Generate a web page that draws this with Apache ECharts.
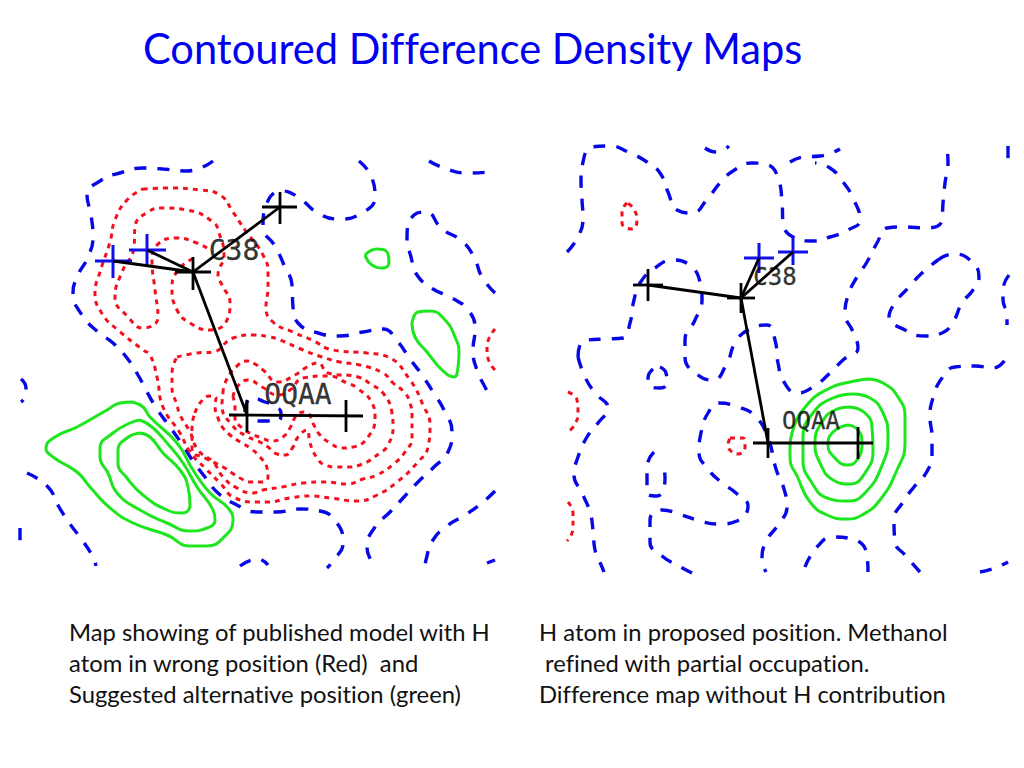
<!DOCTYPE html>
<html>
<head>
<meta charset="utf-8">
<script src="https://cdn.jsdelivr.net/npm/echarts@6/dist/echarts.min.js"></script>
<style>html,body{margin:0;padding:0;background:#fff}#c{width:1024px;height:768px}
svg text{font-variant-ligatures:none;font-feature-settings:"liga" 0,"clig" 0}</style>
</head>
<body>
<div id="c"></div>
<script>
// ---- Left map: blue contours
var blueL1=[[213,161],[187,171],[163,169],[143,168],[123,172],[100,181],[87,195],[91,215],[93,237],[88,257],[78,275],[73,293],[82,315],[98,332],[113,343],[127,358],[138,375],[147,392],[157,409],[170,427],[182,444],[193,461],[205,477],[218,493],[235,504],[257,512],[277,512],[299,509],[320,511],[337,523],[343,543],[332,562],[327,568]];
var blueL2=[[359,161],[372,178],[375,197],[362,213],[339,219],[318,213],[298,197],[282,191],[267,203],[263,227],[275,246],[284,265],[292,285],[293,307],[298,323],[318,333],[339,336],[363,332],[383,329],[398,342],[410,359],[422,375],[433,392],[444,410],[452,432],[448,452],[434,467],[418,482],[404,497],[390,512],[375,527],[367,547],[372,563],[375,568]];
var blueL3=[[429,161],[444,168],[467,173],[490,172],[495,171]];
var blueL4=[[495,293],[482,277],[474,257],[462,241],[442,229],[426,212],[414,215],[407,238],[411,257],[417,275],[433,289],[452,298],[469,311],[475,330],[473,350],[477,370],[486,389],[490,396]];
var blueL5=[[495,491],[482,503],[465,515],[447,526],[433,540],[426,560],[425,568]];
var blueL6=[[487,563],[495,560]];
var blueL7=[[21,379],[26,388],[25,397],[21,402]];
var blueL8=[[27,473],[48,487],[59,507],[70,524],[82,540],[93,557],[96,566]];
var blueL9=[[240,566],[258,559],[268,565]];
var blueL10=[[20,528],[20,545]];
var blueL11=[[245,412],[247,402],[252,398],[265,402],[275,406],[281,413],[278,421],[260,421],[250,418]];
// ---- Left map: red contours
var redL1=[[143,189],[167,188],[200,190],[220,195],[233,212],[245,230],[263,255],[268,273],[268,287],[266,307],[273,322],[293,332],[312,340],[333,350],[367,353],[388,357],[410,380],[423,405],[430,425],[428,447],[417,463],[397,482],[377,495],[357,501],[330,498],[310,496],[290,498],[267,502],[257,502],[235,498],[220,483],[205,468],[190,452],[180,433],[163,407],[157,377],[150,355],[143,350],[118,330],[103,315],[95,293],[100,272],[110,242],[115,220],[127,200]];
var redL2=[[207,248],[197,243],[177,238],[157,245],[152,260],[155,290],[158,317],[143,328],[128,317],[115,297],[122,272],[134,247],[135,227],[148,212],[163,208],[187,210],[213,222],[219,233],[224,255],[218,275],[222,285],[230,303],[227,320],[210,330],[190,323],[177,310],[172,287],[180,268],[195,258]];
var redL3=[[177,357],[197,353],[213,352],[233,338],[253,335],[270,337],[280,340],[303,350],[322,357],[340,362],[360,365],[383,373],[393,383],[405,393],[410,403],[412,415],[412,438],[405,452],[395,463],[377,475],[363,479],[347,484],[325,482],[303,483],[282,487],[263,490],[253,493],[237,488],[223,477],[213,462],[198,450],[190,432],[180,415],[177,405],[172,387],[172,373]];
var redL4=[[195,413],[200,403],[210,396],[216,398],[215,405],[218,418],[223,428],[230,435],[240,442],[250,448],[260,457],[267,468],[268,477],[262,482],[250,482],[240,478],[232,473],[223,467],[205,458],[192,450],[192,427]];
var redL5=[[223,393],[225,383],[238,365],[247,361],[255,364],[263,370],[278,382],[295,375],[307,367],[318,363],[328,373],[358,377],[372,385],[383,393],[392,413],[393,427],[388,445],[380,453],[360,465],[348,467],[337,467],[325,465],[317,458],[310,443],[307,430],[298,437],[293,447],[285,455],[277,454],[268,447],[258,441],[248,437],[232,425],[222,405]];
var redL6=[[233,397],[237,387],[248,380],[262,387],[278,395],[290,390],[303,378],[328,376],[347,383],[357,388],[372,403],[375,417],[368,437],[353,447],[342,448],[330,443],[320,435],[315,427],[305,412],[297,415],[290,428],[283,437],[272,441],[262,438],[250,433],[242,428],[235,418],[235,407]];
var redL7=[[495,329],[487,347],[488,358],[495,370]];
// ---- Left map: green contours
var greenL1=[[132,402],[143,407],[150,417],[177,443],[193,470],[210,493],[228,508],[233,520],[223,538],[207,546],[190,546],[167,535],[133,523],[110,508],[90,487],[77,472],[53,457],[46,448],[55,437],[77,427],[107,410],[120,403]];
var greenL2=[[140,420],[152,427],[167,443],[183,463],[197,487],[213,510],[215,520],[207,528],[190,531],[167,523],[140,510],[117,493],[108,473],[100,457],[100,448],[113,433],[130,423]];
var greenL3=[[140,433],[150,437],[163,453],[180,470],[188,487],[190,505],[182,513],[167,510],[143,495],[127,478],[118,463],[118,450],[127,438]];
var greenL4=[[365,255],[377,249],[387,252],[389,262],[383,268],[372,265]];
var greenL5=[[412,323],[418,312],[430,311],[445,320],[455,337],[459,353],[458,367],[454,377],[442,370],[427,352],[415,337]];
// ---- Right map: blue contours
var blueR1=[[567,252],[578,237],[583,218],[582,200],[581,180],[583,162],[592,147],[610,146],[628,152],[647,162],[660,173],[668,192],[677,210],[692,213],[708,198],[720,183],[733,171],[752,163],[768,165],[778,178],[782,202],[783,222],[793,237],[812,241],[830,237],[848,230],[860,220],[853,198],[843,182],[830,168],[815,163]];
var blueR2=[[790,162],[803,157],[820,156],[840,149]];
var blueR3=[[705,148],[716,152],[729,146]];
var blueR4=[[578,357],[580,345],[588,340],[605,339],[623,338],[630,323],[634,300],[640,283],[655,268],[673,260],[688,264],[700,282],[702,300],[695,320],[685,340],[685,357],[698,375],[713,380],[727,363],[735,343],[748,330],[767,325],[775,340],[778,363],[784,382],[797,393],[813,387],[830,373],[843,360],[858,348],[853,332],[845,313],[849,293],[857,277],[867,262],[877,243],[887,228],[904,227],[927,228],[942,220],[943,203],[945,183],[948,163],[947,147]];
var blueR5=[[578,357],[585,377],[595,393],[608,408],[598,423],[587,437],[578,457],[574,475],[582,493],[590,512],[593,530],[595,550],[602,567],[604,572]];
var blueR6=[[653,369],[648,378],[650,386],[660,388],[667,383],[666,373],[660,367]];
var blueR7=[[692,573],[677,565],[662,556],[650,542],[650,520],[662,510],[682,515],[700,521],[718,524],[737,521],[748,506],[736,493],[721,482],[708,469],[699,452],[701,433],[708,413],[719,403],[738,407],[755,416],[768,438],[776,469],[784,489],[787,507],[778,525],[767,540],[762,558],[766,572]];
var blueR8=[[654,452],[647,467],[647,493],[657,496],[665,478],[663,463]];
var blueR9=[[805,567],[817,547],[833,537],[852,539],[867,555],[868,572]];
var blueR10=[[920,572],[905,555],[895,542],[894,520],[903,502],[914,487],[926,473],[932,455],[932,437],[930,417],[933,398],[942,378],[955,367],[975,366],[993,368],[1007,357]];
var blueR11=[[980,572],[995,568],[1008,562]];
var blueR12=[[938,260],[953,254],[970,260],[979,277],[973,290],[962,303],[953,322],[942,333],[925,336],[905,330],[889,317],[895,303],[908,288],[922,273]];
var blueR13=[[1008,146],[1008,166]];
var blueR14=[[1009,275],[1003,290],[1003,300],[1007,315],[1007,325]];
// ---- Right map: red contours
var redR1=[[627,203],[622,212],[622,223],[632,229],[637,220],[633,208]];
var redR2=[[568,392],[577,400],[578,413],[573,427],[567,432]];
var redR3=[[568,502],[573,513],[573,528],[567,541]];
var redR4=[[730,438],[743,438],[745,447],[738,454],[732,452],[728,445]];
// ---- Right map: green contours
var greenR1=[[867,379],[883,383],[898,397],[905,417],[905,443],[897,470],[880,500],[862,515],[847,519],[827,515],[810,502],[798,478],[790,457],[790,447],[792,433],[807,405],[830,388],[850,382]];
var greenR2=[[853,394],[870,398],[883,413],[888,437],[883,463],[865,493],[847,501],[827,498],[812,483],[803,460],[803,438],[813,413],[833,398]];
var greenR3=[[850,407],[865,413],[872,427],[873,450],[865,473],[850,484],[833,480],[820,463],[815,443],[822,422],[835,410]];
var greenR4=[[848,425],[858,430],[862,443],[857,460],[847,465],[835,458],[828,445],[833,432]];
// ---- Atom crosses and bonds
var blackSegments=[
 [[175,272],[211,272]],[[193,257],[193,290]],[[113,261],[193,272]],[[147,250],[193,272]],[[193,272],[280,207]],[[193,272],[247,415]],
 [[262,207],[297,207]],[[280,192],[280,224]],[[229,415],[363,416]],[[247,400],[247,432]],[[346,400],[346,432]],
 [[727,298],[755,298]],[[741,283],[741,313]],[[648,285],[741,298]],[[633,285],[663,285]],[[648,269],[648,301]],
 [[741,298],[759,258]],[[741,298],[793,252]],[[741,298],[768,443]],[[753,443],[873,443]],[[768,428],[768,458]],[[858,427],[858,459]]
];
var blueSegments=[
 [[95,261],[132,261]],[[113,245],[113,278]],[[129,250],[166,250]],[[147,234],[147,266]],
 [[744,258],[774,258]],[[759,243],[759,273]],[[778,252],[808,252]],[[793,237],[793,265]]
];
// ---- Text
var titleText='Contoured Difference Density Maps';
var captionLeft=['Map showing of published model with H','atom in wrong position (Red)  and','Suggested alternative position (green)'];
var captionRight=['H atom in proposed position. Methanol',' refined with partial occupation.','Difference map without H contribution'];
var atomLabelsLeft=[[234,250,'C38'],[298,394,'OQAA']];
var atomLabelsRight=[[775,277,'C38'],[811,421,'OQAA']];

var BLUE='#0808e6',RED='#f2101e',GREEN='#1ee61e',BLACK='#000000';
function closed(a){return a.concat([a[0]]);}
function line(data,color,width,dash,smooth){
  return {type:'line',data:data,symbol:'none',silent:true,animation:false,clip:true,smooth:smooth,
    lineStyle:{color:color,width:width,type:dash||'solid',cap:'butt'}};
}
var series=[];
[blueL1,blueL2,blueL3,blueL4,blueL5,blueL6,blueL7,blueL8,blueL9,blueL10,blueL11,
 blueR1,blueR2,blueR3,blueR4,blueR5,blueR6,blueR7,blueR8,blueR9,blueR10,blueR11,blueR13,blueR14]
 .forEach(function(a){series.push(line(a,BLUE,3.4,[12,11],0.5));});
series.push(line(closed(blueR12),BLUE,3.4,[12,11],0.5));
[redL2,redL7,redR2,redR3].forEach(function(a){series.push(line(a,RED,3,[5,5],0.5));});
[redL1,redL3,redL4,redL5,redL6,redR1,redR4].forEach(function(a){series.push(line(closed(a),RED,3,[5,5],0.5));});
[greenL1,greenL2,greenL3,greenL4,greenL5,greenR1,greenR2,greenR3,greenR4].forEach(function(a){series.push(line(closed(a),GREEN,3,'solid',0.5));});
blueSegments.forEach(function(a){series.push(line(a,'#1010e8',3,'solid',false));});
blackSegments.forEach(function(a){series.push(line(a,BLACK,2.8,'solid',false));});
function labels(data,size){
  return {type:'scatter',data:data,symbolSize:0,silent:true,animation:false,z:20,
    label:{show:true,position:'inside',formatter:function(p){return p.data[2];},fontFamily:'DejaVu Sans Mono',fontSize:size,color:'#000',textBorderColor:'#000',textBorderWidth:0.3}};
}
series.push(labels(atomLabelsLeft,28));
series.push(labels(atomLabelsRight,24));

var chart=echarts.init(document.getElementById('c'),null,{renderer:'svg'});
chart.setOption({
  backgroundColor:'#ffffff',
  animation:false,
  title:[
    {text:titleText,left:143,top:27,padding:0,textStyle:{fontFamily:'Lato',fontWeight:'normal',fontSize:41.6,color:'#0000ee'}},
    {text:captionLeft.join('\n'),left:69,top:616,padding:0,textStyle:{fontFamily:'Lato',fontWeight:'normal',fontSize:23.8,lineHeight:31,color:'#111'}},
    {text:captionRight.join('\n'),left:539,top:616,padding:0,textStyle:{fontFamily:'Lato',fontWeight:'normal',fontSize:23.8,lineHeight:31,color:'#111'}}
  ],
  grid:{left:0,right:0,top:0,bottom:0},
  xAxis:{type:'value',min:0,max:1024,show:false},
  yAxis:{type:'value',min:0,max:768,inverse:true,show:false},
  tooltip:{show:false},
  series:series
});
</script>
</body>
</html>
